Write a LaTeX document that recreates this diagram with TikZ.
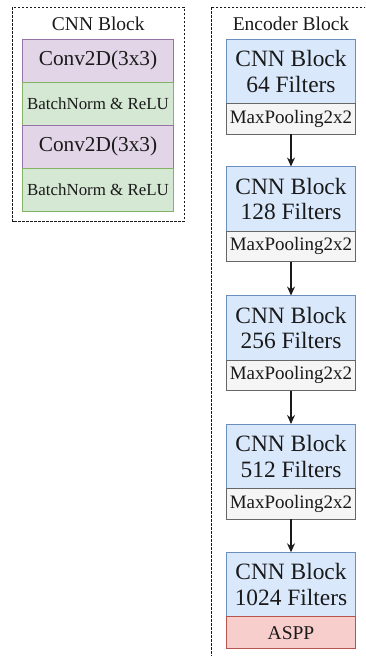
\documentclass[tikz,border=0pt]{standalone}
\usepackage{fontspec}
\setmainfont{Liberation Serif}
\usetikzlibrary{arrows.meta}
\definecolor{bluef}{HTML}{DAE8FC}\definecolor{blued}{HTML}{6C8EBF}
\definecolor{purf}{HTML}{E1D5E7}\definecolor{purd}{HTML}{9673A6}
\definecolor{grnf}{HTML}{D5E8D4}\definecolor{grnd}{HTML}{82B366}
\definecolor{gryf}{HTML}{F5F5F5}\definecolor{gryd}{HTML}{666666}
\definecolor{redf}{HTML}{F8CECC}\definecolor{redd}{HTML}{B85450}
\definecolor{ink}{HTML}{1A1A1A}
\tikzset{
  base/.style={draw, line width=1pt, inner sep=0pt, outer sep=0pt, align=center, text=ink},
  convbox/.style={base, fill=purf, draw=purd, minimum width=150.6pt, minimum height=43pt, font=\fontsize{21.3}{24}\selectfont},
  bnbox/.style={base, fill=grnf, draw=grnd, minimum width=150.6pt, minimum height=43pt, font=\fontsize{16.9}{19}\selectfont},
  cnnbox/.style={base, fill=bluef, draw=blued, minimum width=129.6pt, minimum height=64.5pt, font=\fontsize{23.4}{25.5}\selectfont},
  poolbox/.style={base, fill=gryf, draw=gryd, minimum width=129.6pt, minimum height=30.5pt, font=\fontsize{19}{21}\selectfont},
  asppbox/.style={base, fill=redf, draw=redd, minimum width=129.6pt, minimum height=32pt, font=\fontsize{19.5}{21}\selectfont},
  frame/.style={draw=ink, line width=0.9pt, dash pattern=on 2.5pt off 1.5pt},
  ttl/.style={font=\fontsize{19.5}{22}\selectfont, text=ink, inner sep=0pt},
  arr/.style={draw=ink, line width=1.3pt, -{Stealth[length=9pt,width=8pt]}}
}
\begin{document}
\begin{tikzpicture}[x=1pt,y=-1pt]
\useasboundingbox (0,0) rectangle (365,656);
\clip (0,0) rectangle (365,656);
% left frame
\draw[frame] (12.7,7.3) rectangle (184,221.7);
\node[ttl] (t1) at (98.3,24) {CNN Block};
\node[convbox, anchor=north] (c1) at (98,39.3) {Conv2D(3x3)};
\node[bnbox, anchor=north] (b1) at (c1.south) {BatchNorm \& ReLU};
\node[convbox, anchor=north] (c2) at (b1.south) {Conv2D(3x3)};
\node[bnbox, anchor=north] (b2) at (c2.south) {BatchNorm \& ReLU};
% right frame
\draw[frame] (211,7.3) rectangle (380,670);
\node[ttl] (t2) at (291,24) {Encoder Block};
\node[cnnbox, anchor=north] (e1) at (291,39.3) {CNN Block\\64 Filters};
\node[poolbox, anchor=north] (p1) at (e1.south) {MaxPooling2x2};
\node[cnnbox, anchor=north] (e2) at (291,166.5) {CNN Block\\128 Filters};
\node[poolbox, anchor=north] (p2) at (e2.south) {MaxPooling2x2};
\node[cnnbox, anchor=north] (e3) at (291,295.5) {CNN Block\\256 Filters};
\node[poolbox, anchor=north] (p3) at (e3.south) {MaxPooling2x2};
\node[cnnbox, anchor=north] (e4) at (291,424) {CNN Block\\512 Filters};
\node[poolbox, anchor=north] (p4) at (e4.south) {MaxPooling2x2};
\node[cnnbox, anchor=north] (e5) at (291,552.3) {CNN Block\\1024 Filters};
\node[asppbox, anchor=north] (a5) at (e5.south) {ASPP};
\draw[arr] (p1) -- (e2);
\draw[arr] (p2) -- (e3);
\draw[arr] (p3) -- (e4);
\draw[arr] (p4) -- (e5);
\end{tikzpicture}
\end{document}
